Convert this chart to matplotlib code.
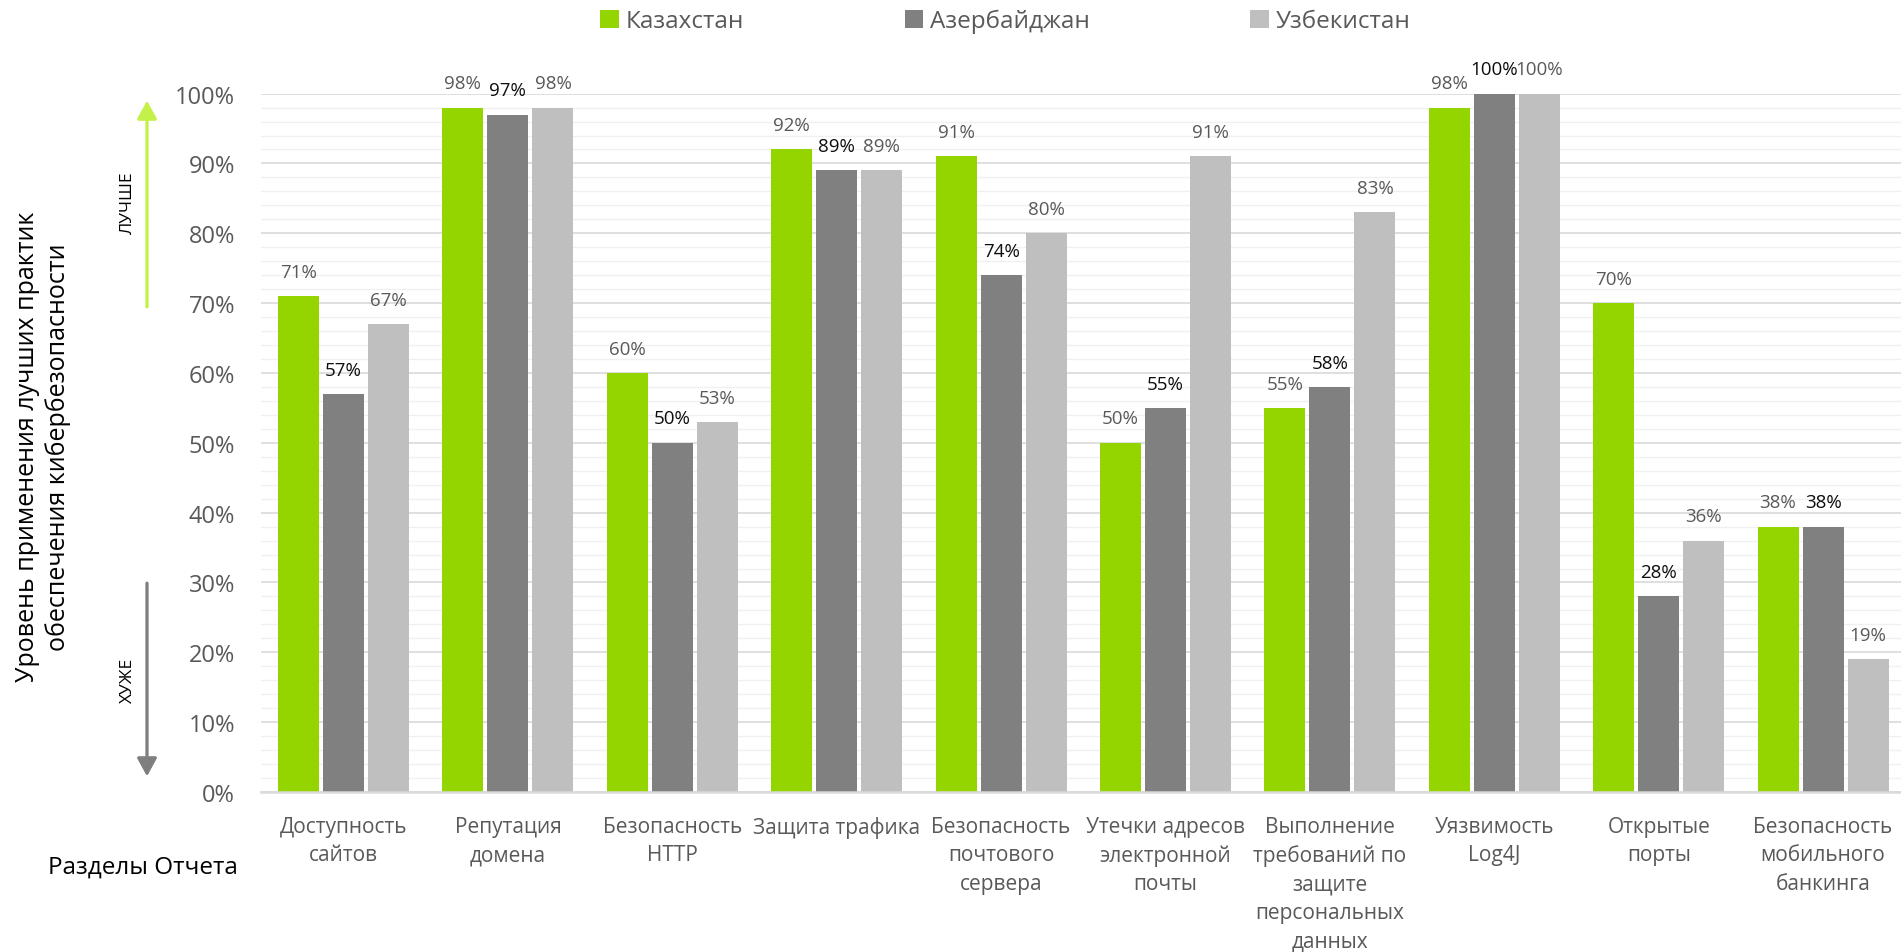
import matplotlib
matplotlib.use("Agg")
import matplotlib.pyplot as plt
import numpy as np
from matplotlib.patches import Patch
from matplotlib.ticker import MultipleLocator, FuncFormatter

plt.rcParams["font.family"] = ["Open Sans", "DejaVu Sans"]

categories = [
    "Доступность\nсайтов",
    "Репутация\nдомена",
    "Безопасность\nHTTP",
    "Защита трафика",
    "Безопасность\nпочтового\nсервера",
    "Утечки адресов\nэлектронной\nпочты",
    "Выполнение\nтребований по\nзащите\nперсональных\nданных",
    "Уязвимость\nLog4J",
    "Открытые\nпорты",
    "Безопасность\nмобильного\nбанкинга",
]
countries = ["Казахстан", "Азербайджан", "Узбекистан"]
kazakhstan = [71, 98, 60, 92, 91, 50, 55, 98, 70, 38]
azerbaijan = [57, 97, 50, 89, 74, 55, 58, 100, 28, 38]
uzbekistan = [67, 98, 53, 89, 80, 91, 83, 100, 36, 19]

colors = ["#94d500", "#808080", "#bfbfbf"]
label_colors = ["#595959", "#0d0d0d", "#595959"]

W, H = 1901, 953
fig = plt.figure(figsize=(W / 100, H / 100), dpi=100)
fig.patch.set_facecolor("white")

# plot area (Excel clips the last category slightly at the right edge)
left_px, bottom_px, top_px = 261.3, 793, 94.6
cat_px = 164.4
ax = fig.add_axes([left_px / W, 1 - bottom_px / H, 1 - left_px / W, (bottom_px - top_px) / H])

x = np.arange(len(categories))
step = 0.274
width = 0.249
series = [kazakhstan, azerbaijan, uzbekistan]
for i, (vals, name) in enumerate(zip(series, countries)):
    vals = np.array(vals) / 100
    bars = ax.bar(x + (i - 1) * step, vals, width, color=colors[i], label=name, zorder=3)
    for b, v in zip(bars, vals):
        ax.annotate(
            f"{round(v * 100)}%",
            (b.get_x() + b.get_width() / 2, v),
            xytext=(0, 17.5),
            textcoords="offset points",
            ha="center",
            va="center",
            fontsize=13.5,
            color=label_colors[i],
            annotation_clip=False,
        )

ax.set_xlim(-0.5, -0.5 + (W - left_px) / cat_px)
ax.set_ylim(0, 1.0)
ax.yaxis.set_major_locator(MultipleLocator(0.1))
ax.yaxis.set_minor_locator(MultipleLocator(0.02))
ax.yaxis.set_major_formatter(FuncFormatter(lambda v, _: f"{v * 100:.0f}%"))
ax.grid(axis="y", which="major", color="#d9d9d9", linewidth=1.2, zorder=1)
ax.grid(axis="y", which="minor", color="#f0f0f0", linewidth=1.0, zorder=0)
ax.set_axisbelow(True)
for side in ["top", "right", "left"]:
    ax.spines[side].set_visible(False)
ax.spines["bottom"].set_color("#d9d9d9")
ax.spines["bottom"].set_linewidth(1.8)
ax.spines["bottom"].set_zorder(4)

ax.set_xticks(x)
ax.set_xticklabels(categories, fontsize=15, color="#595959", linespacing=1.47)
ax.tick_params(axis="x", length=0, pad=17)
ax.tick_params(axis="y", which="both", length=0, pad=19, labelsize=17, labelcolor="#595959")

# legend
handles = [Patch(facecolor=c, edgecolor="none") for c in colors]
leg = fig.legend(
    handles,
    countries,
    loc="center",
    bbox_to_anchor=(0.529, 1 - 22 / H),
    ncol=3,
    frameon=False,
    fontsize=17.5,
    handlelength=0.75,
    handleheight=0.75,
    handletextpad=0.3,
    columnspacing=6.6,
    borderpad=0,
)
for t in leg.get_texts():
    t.set_color("#595959")

# axis titles
fig.text(
    43 / W, 1 - 447 / H,
    "Уровень применения лучших практик\nобеспечения кибербезопасности",
    rotation=90, ha="center", va="center", fontsize=18, color="black",
    multialignment="center", linespacing=1.3,
)
fig.text(48 / W, 1 - 868 / H, "Разделы Отчета", ha="left", va="center", fontsize=17.5, color="black")

# better / worse arrows
ax_x = 147 / W
fig.add_artist(plt.annotate(
    "", xy=(ax_x, 1 - 102 / H), xytext=(ax_x, 1 - 308 / H),
    xycoords="figure fraction", textcoords="figure fraction",
    arrowprops=dict(arrowstyle="-|>,head_length=0.55,head_width=0.3", color="#c4f04a",
                    lw=2, shrinkA=0, shrinkB=0, mutation_scale=20),
))
fig.add_artist(plt.annotate(
    "", xy=(ax_x, 1 - 777 / H), xytext=(ax_x, 1 - 584 / H),
    xycoords="figure fraction", textcoords="figure fraction",
    arrowprops=dict(arrowstyle="-|>,head_length=0.55,head_width=0.3", color="#7f7f7f",
                    lw=2, shrinkA=0, shrinkB=0, mutation_scale=20),
))
fig.text(128 / W, 1 - 203 / H, "ЛУЧШЕ", rotation=90, ha="center", va="center", fontsize=12.5, color="black")
fig.text(128 / W, 1 - 680 / H, "ХУЖЕ", rotation=90, ha="center", va="center", fontsize=12.5, color="black")

fig.savefig("out.png", dpi=100, facecolor="white")
